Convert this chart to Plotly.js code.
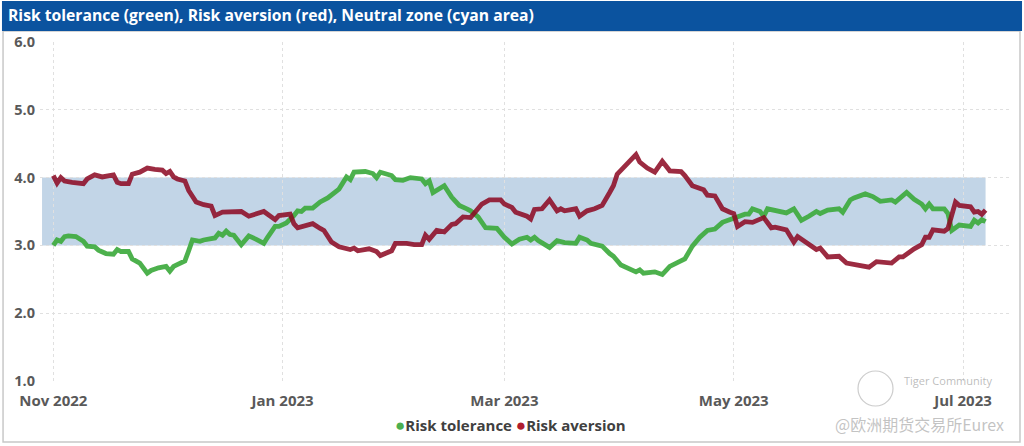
<!DOCTYPE html>
<html>
<head>
<meta charset="utf-8">
<script src="https://cdn.plot.ly/plotly-3.0.1.min.js"></script>
<style>
html,body{margin:0;padding:0;background:#fff;}
#chart{width:1024px;height:446px;}
</style>
</head>
<body>
<div id="chart"></div>
<script>
const chartTitle = 'Risk tolerance (green), Risk aversion (red), Neutral zone (cyan area)';
const seriesNames = ['Risk tolerance', 'Risk aversion'];
const yTicks = [1, 2, 3, 4, 5, 6];
const zoneDates = ['2022-10-29', '2023-07-07'];
const zoneBounds = [3, 4];

const toleranceDates = ['2022-11-01','2022-11-02','2022-11-03','2022-11-04','2022-11-05','2022-11-07','2022-11-09','2022-11-10','2022-11-12','2022-11-13','2022-11-15','2022-11-17','2022-11-18','2022-11-19','2022-11-21','2022-11-22','2022-11-24','2022-11-26','2022-11-27','2022-11-29','2022-12-01','2022-12-02','2022-12-03','2022-12-04','2022-12-06','2022-12-07','2022-12-08','2022-12-10','2022-12-11','2022-12-14','2022-12-15','2022-12-16','2022-12-17','2022-12-18','2022-12-19','2022-12-21','2022-12-23','2022-12-25','2022-12-27','2022-12-28','2022-12-30','2022-12-31','2023-01-02','2023-01-04','2023-01-05','2023-01-06','2023-01-07','2023-01-09','2023-01-11','2023-01-13','2023-01-14','2023-01-16','2023-01-18','2023-01-19','2023-01-20','2023-01-23','2023-01-25','2023-01-26','2023-01-27','2023-01-30','2023-01-31','2023-02-02','2023-02-04','2023-02-05','2023-02-07','2023-02-08','2023-02-09','2023-02-10','2023-02-13','2023-02-15','2023-02-17','2023-02-19','2023-02-20','2023-02-22','2023-02-24','2023-02-27','2023-03-01','2023-03-03','2023-03-05','2023-03-07','2023-03-08','2023-03-09','2023-03-10','2023-03-13','2023-03-15','2023-03-17','2023-03-20','2023-03-21','2023-03-23','2023-03-24','2023-03-26','2023-03-27','2023-03-29','2023-03-30','2023-04-01','2023-04-03','2023-04-05','2023-04-06','2023-04-07','2023-04-10','2023-04-12','2023-04-14','2023-04-16','2023-04-18','2023-04-20','2023-04-22','2023-04-24','2023-04-26','2023-04-28','2023-04-30','2023-05-01','2023-05-04','2023-05-05','2023-05-06','2023-05-08','2023-05-09','2023-05-10','2023-05-13','2023-05-15','2023-05-17','2023-05-19','2023-05-21','2023-05-23','2023-05-24','2023-05-26','2023-05-29','2023-05-30','2023-06-01','2023-06-02','2023-06-05','2023-06-07','2023-06-09','2023-06-12','2023-06-13','2023-06-16','2023-06-18','2023-06-20','2023-06-21','2023-06-22','2023-06-23','2023-06-26','2023-06-27','2023-06-28','2023-06-30','2023-07-03','2023-07-04','2023-07-05','2023-07-06','2023-07-07'];
const toleranceValues = [3.00,3.08,3.06,3.13,3.14,3.13,3.06,2.99,2.98,2.93,2.88,2.87,2.94,2.91,2.91,2.80,2.74,2.59,2.63,2.67,2.69,2.62,2.69,2.72,2.77,2.92,3.08,3.06,3.08,3.11,3.18,3.15,3.21,3.16,3.15,3.01,3.14,3.09,3.03,3.12,3.28,3.28,3.33,3.44,3.51,3.50,3.55,3.55,3.64,3.70,3.74,3.83,4.01,3.97,4.08,4.09,4.06,4.00,4.08,4.03,3.97,3.96,4.00,3.99,3.98,3.91,3.95,3.78,3.88,3.71,3.59,3.54,3.51,3.42,3.26,3.25,3.12,3.02,3.09,3.12,3.08,3.12,3.07,2.97,3.07,3.04,3.03,3.12,3.08,3.03,3.00,2.99,2.88,2.84,2.71,2.66,2.61,2.64,2.59,2.61,2.57,2.69,2.75,2.80,2.99,3.12,3.22,3.24,3.34,3.38,3.41,3.46,3.46,3.54,3.50,3.43,3.54,3.51,3.48,3.54,3.37,3.43,3.50,3.47,3.52,3.54,3.49,3.67,3.70,3.76,3.72,3.65,3.67,3.64,3.78,3.68,3.61,3.54,3.61,3.54,3.54,3.47,3.22,3.30,3.28,3.37,3.33,3.38,3.35];

const aversionDates = ['2022-11-01','2022-11-02','2022-11-03','2022-11-04','2022-11-06','2022-11-09','2022-11-10','2022-11-12','2022-11-14','2022-11-16','2022-11-17','2022-11-18','2022-11-19','2022-11-21','2022-11-22','2022-11-24','2022-11-26','2022-11-28','2022-11-30','2022-12-01','2022-12-02','2022-12-03','2022-12-04','2022-12-06','2022-12-07','2022-12-09','2022-12-11','2022-12-13','2022-12-14','2022-12-16','2022-12-18','2022-12-21','2022-12-23','2022-12-26','2022-12-27','2022-12-30','2022-12-31','2023-01-03','2023-01-04','2023-01-05','2023-01-07','2023-01-09','2023-01-11','2023-01-12','2023-01-14','2023-01-16','2023-01-19','2023-01-20','2023-01-21','2023-01-24','2023-01-26','2023-01-27','2023-01-30','2023-01-31','2023-02-03','2023-02-05','2023-02-07','2023-02-08','2023-02-09','2023-02-11','2023-02-13','2023-02-15','2023-02-16','2023-02-18','2023-02-20','2023-02-22','2023-02-23','2023-02-25','2023-02-28','2023-03-01','2023-03-03','2023-03-04','2023-03-07','2023-03-08','2023-03-09','2023-03-11','2023-03-13','2023-03-15','2023-03-16','2023-03-17','2023-03-20','2023-03-21','2023-03-23','2023-03-25','2023-03-27','2023-03-29','2023-03-30','2023-03-31','2023-04-03','2023-04-05','2023-04-06','2023-04-08','2023-04-10','2023-04-12','2023-04-14','2023-04-17','2023-04-18','2023-04-20','2023-04-23','2023-04-24','2023-04-26','2023-04-28','2023-04-30','2023-05-01','2023-05-02','2023-05-04','2023-05-06','2023-05-09','2023-05-11','2023-05-12','2023-05-15','2023-05-17','2023-05-18','2023-05-20','2023-05-23','2023-05-24','2023-05-26','2023-05-29','2023-05-31','2023-06-03','2023-06-06','2023-06-08','2023-06-10','2023-06-12','2023-06-14','2023-06-15','2023-06-18','2023-06-20','2023-06-21','2023-06-22','2023-06-23','2023-06-26','2023-06-27','2023-06-28','2023-06-29','2023-06-30','2023-07-03','2023-07-04','2023-07-05','2023-07-06','2023-07-07'];
const aversionValues = [4.03,3.92,4.00,3.95,3.93,3.91,3.98,4.04,4.01,4.04,4.04,3.93,3.91,3.91,4.05,4.08,4.14,4.12,4.11,4.06,4.09,4.01,3.98,3.95,3.81,3.64,3.60,3.58,3.44,3.49,3.50,3.50,3.43,3.48,3.50,3.38,3.44,3.46,3.32,3.26,3.29,3.32,3.25,3.22,3.05,2.98,2.94,2.96,2.92,2.95,2.91,2.85,2.92,3.03,3.03,3.01,3.01,3.15,3.09,3.22,3.20,3.31,3.32,3.42,3.41,3.54,3.61,3.67,3.67,3.61,3.56,3.49,3.43,3.39,3.53,3.54,3.67,3.51,3.54,3.51,3.54,3.43,3.51,3.54,3.59,3.78,3.88,4.05,4.21,4.34,4.23,4.14,4.08,4.24,4.10,4.09,4.03,3.88,3.82,3.74,3.73,3.54,3.49,3.47,3.28,3.35,3.34,3.41,3.26,3.27,3.23,3.05,3.13,3.05,2.94,2.96,2.83,2.84,2.74,2.71,2.68,2.76,2.75,2.74,2.83,2.83,2.95,3.01,3.12,3.12,3.23,3.21,3.25,3.44,3.64,3.59,3.57,3.49,3.50,3.46,3.52];

const GREEN = 'rgba(62,170,62,0.92)';
const RED = 'rgba(140,8,34,0.86)';
const GREEN_DOT = '#4caf50';
const RED_DOT = '#b01c2e';
const FONT = '"Open Sans", "Noto Sans", sans-serif';

const traces = [
  {x: toleranceDates, y: toleranceValues, type: 'scatter', mode: 'lines', name: seriesNames[0],
   line: {color: GREEN, width: 4.8}, showlegend: false},
  {x: aversionDates, y: aversionValues, type: 'scatter', mode: 'lines', name: seriesNames[1],
   line: {color: RED, width: 4.8}, showlegend: false}
];

const legendText =
  '<span style="color:' + GREEN_DOT + ';font-size:17px">●</span>' + seriesNames[0] + ' ' +
  '<span style="color:' + RED_DOT + ';font-size:17px">●</span>' + seriesNames[1];

const layout = {
  width: 1024, height: 446,
  margin: {l: 40, r: 14, t: 42, b: 65, autoexpand: false},
  paper_bgcolor: '#ffffff', plot_bgcolor: '#ffffff',
  font: {family: FONT, color: '#595959'},
  showlegend: false,
  title: {text: chartTitle, x: 8/1024, xanchor: 'left', xref: 'container',
          y: 1 - 16/446, yanchor: 'middle', yref: 'container',
          font: {family: FONT, size: 15.7, color: '#ffffff', weight: 'bold'}},
  xaxis: {type: 'date', range: ['2022-10-28 11:00', '2023-07-13 12:00'],
          tick0: '2022-11-01', dtick: 'M2', tickformat: '%b %Y',
          showgrid: true, gridcolor: '#e0e0e0', griddash: 'dot', gridwidth: 1,
          zeroline: false, showline: false, ticks: '', automargin: false, ticklabelstandoff: 9,
          tickfont: {family: FONT, size: 15, color: '#595959', weight: 'bold'}},
  yaxis: {range: [1, 6], tickvals: yTicks, tickformat: '.1f',
          showgrid: true, gridcolor: '#e0e0e0', griddash: 'dot', gridwidth: 1,
          zeroline: false, showline: false, ticks: '', ticklabelstandoff: 4, automargin: false,
          tickfont: {family: FONT, size: 14.5, color: '#595959', weight: 'bold'}},
  shapes: [
    {type: 'rect', xref: 'x', yref: 'y', x0: zoneDates[0], x1: zoneDates[1],
     y0: zoneBounds[0], y1: zoneBounds[1], fillcolor: '#c2d5e7', line: {width: 0}, layer: 'below'},
    {type: 'rect', xref: 'paper', yref: 'paper', x0: -0.0381, x1: 1.0103, y0: -0.18, y1: 1.0324,
     fillcolor: 'rgba(0,0,0,0)', line: {color: '#c8c8c8', width: 1.5}, layer: 'below'},
    {type: 'rect', xref: 'paper', yref: 'paper', x0: -0.0392, x1: 1.0124, y0: 1.0324, y1: 1.121,
     fillcolor: '#0b539f', line: {width: 0}, layer: 'below'},
    {type: 'circle', xref: 'paper', yref: 'paper', x0: (858-40)/970, x1: (893-40)/970,
     y0: (381-406)/339, y1: (381-371)/339, fillcolor: 'rgba(0,0,0,0)',
     line: {color: 'rgba(170,170,170,0.6)', width: 1.2}, layer: 'above'}
  ],
  annotations: [
    {text: legendText, xref: 'paper', yref: 'paper', x: (510-40)/970, y: (381-424)/339,
     xanchor: 'center', yanchor: 'middle', showarrow: false,
     font: {family: FONT, size: 15, color: '#404040', weight: 'bold'}},
    {text: 'Tiger Community', xref: 'paper', yref: 'paper', x: (902-40)/970, y: (381-380)/339,
     xanchor: 'left', yanchor: 'middle', showarrow: false,
     font: {family: FONT, size: 11, color: 'rgba(160,160,160,0.7)'}},
    {text: '@欧洲期货交易所Eurex', xref: 'paper', yref: 'paper', x: (1006-40)/970, y: (381-424)/339,
     xanchor: 'right', yanchor: 'middle', showarrow: false,
     font: {family: '"Noto Sans CJK SC", "Noto Sans", sans-serif', size: 16, color: 'rgba(175,175,175,0.75)'}}
  ]
};

Plotly.newPlot('chart', traces, layout, {displayModeBar: false, staticPlot: true});
</script>
</body>
</html>
